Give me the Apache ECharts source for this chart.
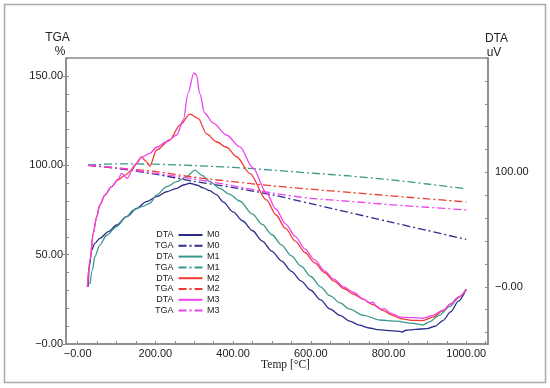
<!DOCTYPE html>
<html><head><meta charset="utf-8">
<script src="https://cdn.jsdelivr.net/npm/echarts@6/dist/echarts.min.js"></script>
<style>html,body{margin:0;padding:0;background:#fff}#c{width:550px;height:388px}</style>
</head><body><div id="c"></div>
<script>
// ---- data ----
const samples = ['M0', 'M1', 'M2', 'M3'];
const colors = ['#2c2c8a', '#3a988b', '#f03a32', '#ef42ee'];

const tgaTemps = [27, 100, 200, 300, 400, 500, 600, 700, 800, 900, 1000];
const tgaM0 = [100, 98.3, 95, 91, 87.5, 83.5, 78.5, 73.5, 68.5, 63.5, 58.5];
const tgaM1 = [100, 100.8, 100.6, 99.8, 98.8, 97.3, 95.6, 94, 92, 89.5, 86.8];
const tgaM2 = [100, 98.5, 96.5, 93.3, 90.8, 88.5, 86.6, 84.8, 83, 81.2, 79.5];
const tgaM3 = [100, 98.5, 95.5, 92.3, 88.5, 84.5, 81.5, 79.8, 78, 76.5, 75];

const dtaM0 = [[27,0],[30,17.6],[36,32],[44,38],[57,42.4],[79,48.2],[100,54],[126,61.3],[152,68.6],[177,74.4],[203,78.8],[229,83.1],[255,86.1],[272,89],[289,90.5],[306,89],[323,86.5],[340,84],[357,80.5],[375,74],[400,65.5],[425,57.5],[450,49],[475,40],[500,31],[525,22.5],[550,13.5],[575,5],[600,-3],[625,-11.5],[650,-19.5],[675,-25],[700,-30],[725,-33.5],[750,-36],[775,-37.5],[800,-38.3],[825,-38.8],[835,-39.5],[845,-38],[870,-37.3],[900,-36.5],[920,-34.5],[940,-29.5],[960,-22],[980,-12.5],[1000,-2.2]];
const dtaM1 = [[32,2.2],[38,14.7],[44,26.3],[57,36.5],[75,45.3],[100,52.5],[126,61.3],[143,67],[165,70],[186,73],[203,80.2],[229,87.5],[255,91.9],[280,96.2],[302,102],[319,97.7],[340,92],[366,86],[390,81],[417,75],[450,63.5],[475,54.5],[500,45.5],[525,36.5],[550,27],[575,18],[600,9],[625,0],[650,-8],[675,-14],[700,-19.5],[734,-24.7],[777,-29],[820,-30],[863,-32],[888,-33.4],[906,-30.5],[931,-24.7],[957,-17.4],[983,-8.7],[1000,-2.2]];
const dtaM2 = [[25,0],[32,23.4],[40,46.8],[49,61.3],[57,71.5],[70,80.2],[87,87.5],[104,93.4],[122,97.7],[139,102],[152,108],[164,113.5],[175,110],[186,105.6],[203,119.6],[237,128.3],[263,141.4],[289,151],[310,147.3],[332,133.6],[357,126.8],[383,122],[409,113.7],[443,99.2],[486,75.9],[510,63],[535,51],[560,40],[585,30],[610,21],[635,12.5],[660,5],[685,-1.5],[710,-6.5],[735,-11],[760,-15.5],[785,-20.5],[810,-25],[835,-28],[860,-29.3],[888,-29.5],[914,-26.5],[940,-21],[960,-15],[980,-9],[1000,-2.2]];
const dtaM3 = [[25,0],[32,23.4],[40,46.8],[49,61.3],[57,71.5],[70,80.2],[87,87.5],[104,94],[113,99.2],[127,94.8],[147,106.5],[164,113.2],[186,116.7],[203,122],[229,126.8],[255,132.7],[272,145.8],[284,169],[299,187],[306,185],[314,169],[327,151.7],[349,143],[383,132.7],[417,122.5],[451,104],[486,82],[510,68],[535,55],[560,44],[585,33],[610,23.5],[635,14],[660,6.5],[685,0],[710,-5],[735,-10.5],[750,-14],[760,-13.5],[770,-17],[780,-19.5],[790,-19],[805,-23],[830,-26.5],[860,-27],[888,-27.5],[914,-25],[940,-20.5],[960,-15],[980,-9],[1000,-2.2]];

const xLabelValues = [0, 200, 400, 600, 800, 1000];
const xTickValues = [0, 50, 100, 150, 200, 250, 300, 350, 400, 450, 500, 550, 600, 650, 700, 750, 800, 850, 900, 950, 1000, 1050];
const tgaLabelValues = [0, 50, 100, 150];
const tgaMinorValues = [0, 10, 20, 30, 40, 50, 60, 70, 80, 90, 100, 110, 120, 130, 140, 150, 160];
const dtaLabelValues = [0, 100];
const dtaTickValues = [-40, -20, 0, 20, 40, 60, 80, 100, 120, 140, 160, 180, 200];

// ---- chart ----
const tgaAll = [tgaM0, tgaM1, tgaM2, tgaM3];
const dtaAll = [dtaM0, dtaM1, dtaM2, dtaM3];
const fmt = v => (v === 0 ? '\u22120.00' : Number(v).toFixed(2));
const axisCol = '#8a8a8a';
const txtCol = '#222';
const font = 'Liberation Sans, Arial, sans-serif';

const series = [];
samples.forEach((s, i) => {
  series.push({
    name: 'DTA ' + s, type: 'line', xAxisIndex: 0, yAxisIndex: 1,
    data: dtaAll[i], symbol: 'none', showSymbol: false,
    smooth: 0.3, smoothMonotone: 'x',
    lineStyle: { color: colors[i], width: 1.3 }, itemStyle: { color: colors[i] }
  });
  series.push({
    name: 'TGA ' + s, type: 'line', xAxisIndex: 0, yAxisIndex: 0,
    data: tgaTemps.map((t, j) => [t, tgaAll[i][j]]), symbol: 'none', showSymbol: false,
    smooth: 0.3,
    lineStyle: { color: colors[i], width: 1.3, type: [8, 3, 2, 3] }, itemStyle: { color: colors[i] }
  });
});

const chart = echarts.init(document.getElementById('c'), null, { renderer: 'canvas' });
chart.setOption({
  animation: false,
  backgroundColor: '#fff',
  textStyle: { fontFamily: font },
  grid: { left: 66, top: 58, width: 422, height: 286, show: true, borderColor: axisCol, borderWidth: 1.5, backgroundColor: 'transparent' },
  xAxis: [{
    type: 'value', min: -30, max: 1056,
    axisLine: { show: true, onZero: false, lineStyle: { color: axisCol, width: 1.5 } },
    axisTick: { show: true, inside: true, length: 3, customValues: xTickValues, lineStyle: { color: axisCol } },
    axisLabel: { customValues: xLabelValues, formatter: fmt, margin: 4, fontSize: 11, color: txtCol, fontFamily: font },
    splitLine: { show: false }
  }],
  yAxis: [{
    type: 'value', min: 0, max: 160, position: 'left', offset: 0,
    axisLine: { show: true, onZero: false, lineStyle: { color: axisCol, width: 1.5 } },
    axisTick: { show: true, inside: false, length: 3, customValues: tgaLabelValues, lineStyle: { color: axisCol } },
    axisLabel: { customValues: tgaLabelValues, formatter: fmt, margin: 3, fontSize: 11, color: txtCol, fontFamily: font },
    splitLine: { show: false }
  }, {
    type: 'value', min: -50, max: 200, position: 'right', offset: 0,
    axisLine: { show: true, onZero: false, lineStyle: { color: axisCol, width: 1.5 } },
    axisTick: { show: true, inside: true, length: 3, customValues: dtaTickValues, lineStyle: { color: axisCol } },
    axisLabel: { customValues: dtaLabelValues, formatter: fmt, margin: 7, fontSize: 11, color: txtCol, fontFamily: font },
    splitLine: { show: false }
  }, {
    type: 'value', min: 0, max: 160, position: 'left', offset: 0,
    axisLine: { show: false, onZero: false },
    axisTick: { show: true, inside: true, length: 3, customValues: tgaMinorValues, lineStyle: { color: axisCol } },
    axisLabel: { show: false },
    splitLine: { show: false }
  }],
  legend: [{
    orient: 'vertical', left: 155, top: 230.5, align: 'right', padding: 0,
    itemWidth: 24, itemHeight: 9, itemGap: 1.8, selectedMode: false,
    itemStyle: { opacity: 0 },
    formatter: n => n.split(' ')[0],
    textStyle: { fontSize: 9, lineHeight: 9, color: txtCol, fontFamily: font },
    data: series.map(s => s.name)
  }, {
    orient: 'vertical', left: 198.5, top: 230.5, align: 'left', padding: 0,
    itemWidth: 0, itemHeight: 9, itemGap: 1.8, selectedMode: false,
    itemStyle: { opacity: 0 }, lineStyle: { opacity: 0 },
    formatter: n => n.split(' ')[1],
    textStyle: { fontSize: 9, lineHeight: 9, color: txtCol, fontFamily: font },
    data: series.map(s => s.name)
  }],
  graphic: [
    { type: 'rect', silent: true, shape: { x: 4.5, y: 4.5, width: 541, height: 378 }, style: { fill: 'none', stroke: '#aaaaaa', lineWidth: 1.5 } },
    { type: 'text', x: 57.5, y: 38, style: { text: 'TGA', font: '12px ' + font, fill: txtCol, textAlign: 'center', textVerticalAlign: 'middle' } },
    { type: 'text', x: 60, y: 51.5, style: { text: '%', font: '12px ' + font, fill: txtCol, textAlign: 'center', textVerticalAlign: 'middle' } },
    { type: 'text', x: 496.5, y: 39, style: { text: 'DTA', font: '12px ' + font, fill: txtCol, textAlign: 'center', textVerticalAlign: 'middle' } },
    { type: 'text', x: 494, y: 53, style: { text: 'uV', font: '12px ' + font, fill: txtCol, textAlign: 'center', textVerticalAlign: 'middle' } },
    { type: 'text', x: 285.5, y: 365, style: { text: 'Temp [\u00B0C]', font: '11.5px Liberation Serif, Times New Roman, serif', fill: txtCol, textAlign: 'center', textVerticalAlign: 'middle' } }
  ],
  series: series
});
</script>
</body></html>
